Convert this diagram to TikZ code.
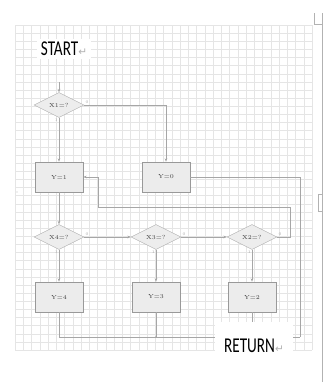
\documentclass[tikz,border=0pt]{standalone}
\usepackage{fontspec}
\usepackage{graphicx}
\newfontfamily\capfont[FakeStretch=0.72]{Carlito}
\newfontfamily\symfont{DejaVu Sans}
\usetikzlibrary{arrows.meta,shapes.geometric}
\newcommand{\retmark}{{\symfont\fontsize{9}{9}\selectfont\color{gray!60}↵}}

\begin{document}
\begin{tikzpicture}[
  x=0.03cm, y=-0.03cm,
  decision/.style={diamond, draw=gray!60, fill=gray!14, aspect=2, minimum width=1.5cm, minimum height=0.75cm, inner sep=0pt, font=\tiny, text=black!75},
  process/.style={rectangle, draw=gray!80, fill=gray!15, line width=0.6pt, minimum width=1.44cm, minimum height=0.9cm, font=\tiny, text=black!75},
  flow/.style={draw=gray!70, line width=0.4pt, -{Stealth[length=1mm, width=0.8mm]}},
  line/.style={draw=gray!70, line width=0.4pt},
  tag/.style={font=\fontsize{3.5}{4}\selectfont, text=gray!70, inner sep=1pt},
  title/.style={font=\capfont\fontsize{18}{18}\selectfont, fill=white, inner sep=3pt},
  gridline/.style={gray!20, line width=0.3pt}
]
\useasboundingbox (0,0) rectangle (333,382);

% squared paper
\foreach \gx in {15,23.25,...,312.5}
  \draw[gridline] (\gx,25) -- (\gx,350);
\foreach \gy in {25,33.125,...,350.5}
  \draw[gridline] (15,\gy) -- (312,\gy);

% page edge
\draw[gray!60, line width=0.8pt] (322,13) -- (322,382);
\draw[gray!60, line width=0.5pt] (314,13) -- (314,24) -- (322,24);
\draw[gray!60, line width=0.6pt] (322,194) -- (318,194) -- (318,211) -- (322,211);
\fill[gray!50] (17,192) circle (0.6pt);

\node[title] (start) at (64,49) {START\retmark};
\coordinate (entry) at (59,82);

\node[decision] (x1) at (59,105) {X1=?};
\node[process] (y1) at (59,177) {Y=1};
\node[process] (y0) at (166,177) {Y=0};

\node[decision] (x4) at (59,237) {X4=?};
\node[decision] (x3) at (156,237) {X3=?};
\node[decision] (x2) at (252,237) {X2=?};

\node[process] (y4) at (59,297) {Y=4};
\node[process] (y3) at (156,297) {Y=3};
\node[process] (y2) at (252,297) {Y=2};

\draw[flow] (entry) -- (x1);
\draw[flow] (x1) -- (y1);
\draw[flow] (x1.east) -| (y0.north);
\draw[flow] (y1) -- (x4);
\draw[flow] (x4) -- (x3);
\draw[flow] (x3) -- (x2);

\coordinate (loopR) at (290,207);
\coordinate (loopL) at (98,207);
\draw[flow] (x2.east) -| (loopR) -- (loopL) |- (y1.east);

\draw[flow] (x4) -- (y4);
\draw[flow] (x3) -- (y3);
\draw[flow] (x2) -- (y2);

% yes / no marks
\node[tag, above right] (n1) at (x1.east) {0};
\node[tag, below left] (e1) at (x1.south) {1};
\node[tag, above right] (n4) at (x4.east) {0};
\node[tag, below left] (e4) at (x4.south) {1};
\node[tag, above right] (n3) at (x3.east) {0};
\node[tag, below left] (e3) at (x3.south) {1};
\node[tag, above right] (n2) at (x2.east) {0};
\node[tag, below left] (e2) at (x2.south) {1};

\coordinate (join) at (300,337);
\draw[line] (y0.east) -| (join);
\draw[line] (y4.south) |- (join);
\draw[line] (y3.south) -- (y3.south |- join);
\fill[gray!70] (y3.south |- join) circle (0.8pt);
\draw[line] (y2.south) -- (y2.south |- join);

\node[title, minimum width=2.35cm, minimum height=1.45cm] (return) at (254,346) {RETURN\retmark};

\end{tikzpicture}
\end{document}
